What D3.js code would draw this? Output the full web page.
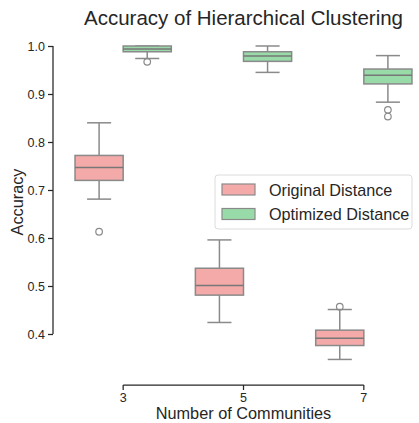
<!DOCTYPE html>
<html lang="en">
  <head>
    <meta charset="utf-8">
    <title>Accuracy of Hierarchical Clustering</title>
    <script src="https://d3js.org/d3.v7.js"></script>
    <style>
      body { margin: 0; background: #fff; }
      text { font-family: "Liberation Sans", Arial, sans-serif; }
    </style>
  </head>

  <body>
    <svg></svg>

  <script>

// data

  const categories = ["3", "5", "7"];
  const series = ["Original Distance", "Optimized Distance"];
  const colors = ["#f3aaa8", "#99dba8"];
  const yTicks = [0.4, 0.5, 0.6, 0.7, 0.8, 0.9, 1.0];

  // one value per category, per series
  const whiskerLow  = [[0.681, 0.424, 0.347], [0.974, 0.945, 0.883]];
  const q1          = [[0.720, 0.481, 0.376], [0.988, 0.968, 0.921]];
  const median      = [[0.747, 0.501, 0.391], [0.994, 0.979, 0.939]];
  const q3          = [[0.772, 0.537, 0.408], [1.000, 0.988, 0.952]];
  const whiskerHigh = [[0.840, 0.596, 0.451], [1.000, 1.000, 0.980]];
  const outliers    = [[[0.613], [], [0.457]], [[0.967], [], [0.867, 0.853]]];

  const w = 419;
  const h = 423;
  const margin = {top: 46, right: 0, bottom: 38, left: 63};

  const svg = d3.select("svg")
      .attr("width", w)
      .attr("height", h);

  const xScale = d3.scaleBand()
      .domain(categories)
      .range([margin.left, 424]);

  const hueScale = d3.scaleBand()
      .domain(series)
      .range([xScale.bandwidth() * 0.1, xScale.bandwidth() * 0.9]);

  const yScale = d3.scaleLinear()
      .domain([0.4, 1.0])
      .range([334, 46]);

  const lineColor = "#8a8a8a";

// boxes

  const boxes = [];
  series.forEach((s, si) => {
    categories.forEach((c, ci) => {
      boxes.push({series: s, si: si, cat: c,
        lo: whiskerLow[si][ci], q1: q1[si][ci], med: median[si][ci],
        q3: q3[si][ci], hi: whiskerHigh[si][ci], out: outliers[si][ci]});
    });
  });

  const g = svg.append("g").attr("id", "plot");

  const bw = hueScale.bandwidth();

  const box = g.selectAll("g.box")
      .data(boxes)
    .enter().append("g")
      .attr("class", "box")
      .attr("transform", d => `translate(${xScale(d.cat) + hueScale(d.series)}, 0)`);

  // whiskers
  box.append("line")
      .attr("x1", bw / 2).attr("x2", bw / 2)
      .attr("y1", d => yScale(d.hi)).attr("y2", d => yScale(d.q3))
      .attr("stroke", lineColor).attr("stroke-width", 1.5);
  box.append("line")
      .attr("x1", bw / 2).attr("x2", bw / 2)
      .attr("y1", d => yScale(d.q1)).attr("y2", d => yScale(d.lo))
      .attr("stroke", lineColor).attr("stroke-width", 1.5);

  // caps
  box.selectAll("line.cap")
      .data(d => [d.lo, d.hi])
    .enter().append("line")
      .attr("class", "cap")
      .attr("x1", bw / 4).attr("x2", bw * 3 / 4)
      .attr("y1", v => yScale(v)).attr("y2", v => yScale(v))
      .attr("stroke", lineColor).attr("stroke-width", 1.5);

  box.append("rect")
      .attr("x", 0)
      .attr("width", bw)
      .attr("y", d => yScale(d.q3))
      .attr("height", d => yScale(d.q1) - yScale(d.q3))
      .attr("fill", d => colors[d.si])
      .attr("stroke", lineColor)
      .attr("stroke-width", 1.5);

  box.append("line")
      .attr("x1", 0).attr("x2", bw)
      .attr("y1", d => yScale(d.med)).attr("y2", d => yScale(d.med))
      .attr("stroke", "#777").attr("stroke-width", 1.5);

  box.selectAll("circle")
      .data(d => d.out)
    .enter().append("circle")
      .attr("cx", bw / 2)
      .attr("cy", v => yScale(v))
      .attr("r", 3.3)
      .attr("fill", "none")
      .attr("stroke", lineColor)
      .attr("stroke-width", 1.2);

// axes (offset and trimmed)

  const axisColor = "#262626";

  const xAxis = svg.append("g")
      .attr("transform", "translate(0, 385)")
      .call(d3.axisBottom(xScale).tickSize(5).tickSizeOuter(0));
  xAxis.select(".domain").remove();
  xAxis.append("line")
      .attr("x1", xScale(categories[0]) + xScale.bandwidth() / 2)
      .attr("x2", xScale(categories[categories.length - 1]) + xScale.bandwidth() / 2)
      .attr("stroke", axisColor).attr("stroke-width", 1.25);

  const yAxis = svg.append("g")
      .attr("transform", "translate(53, 0)")
      .call(d3.axisLeft(yScale).tickValues(yTicks).tickFormat(d3.format(".1f")).tickSize(5));
  yAxis.select(".domain").remove();
  yAxis.append("line")
      .attr("y1", yScale(yTicks[0]))
      .attr("y2", yScale(yTicks[yTicks.length - 1]))
      .attr("stroke", axisColor).attr("stroke-width", 1.25);

  svg.selectAll(".tick line").attr("stroke", axisColor).attr("stroke-width", 1.25);
  svg.selectAll(".tick text")
      .attr("fill", axisColor)
      .style("font-size", "12.5px")
      .style("font-family", "Liberation Sans, Arial, sans-serif");
  yAxis.selectAll(".tick text").attr("x", -8);
  xAxis.selectAll(".tick text").attr("y", 8);

// labels

  svg.append("text")
      .attr("x", 243.5)
      .attr("y", 25)
      .attr("text-anchor", "middle")
      .attr("fill", axisColor)
      .style("font-size", "20.5px")
      .text("Accuracy of Hierarchical Clustering");

  svg.append("text")
      .attr("transform", `translate(23, ${(yScale(0.4) + yScale(1.0)) / 2 + 12}) rotate(-90)`)
      .attr("text-anchor", "middle")
      .attr("fill", axisColor)
      .style("font-size", "16.3px")
      .text("Accuracy");

  svg.append("text")
      .attr("x", 243.5)
      .attr("y", 419)
      .attr("text-anchor", "middle")
      .attr("fill", axisColor)
      .style("font-size", "16.3px")
      .text("Number of Communities");

// legend

  const legend = svg.append("g")
      .attr("transform", "translate(215, 175)");

  legend.append("rect")
      .attr("width", 197)
      .attr("height", 54)
      .attr("rx", 3)
      .attr("fill", "#fff")
      .attr("fill-opacity", 0.8)
      .attr("stroke", "#dcdcdc");

  const item = legend.selectAll("g.item")
      .data(series)
    .enter().append("g")
      .attr("class", "item")
      .attr("transform", (d, i) => `translate(7, ${9 + i * 24.5})`);

  item.append("rect")
      .attr("width", 33)
      .attr("height", 11)
      .attr("fill", (d, i) => colors[i])
      .attr("stroke", lineColor)
      .attr("stroke-width", 1.2);

  item.append("text")
      .attr("x", 47)
      .attr("y", 11.5)
      .attr("fill", axisColor)
      .style("font-size", "16.2px")
      .text(d => d);

    </script>

  </body>

</html>
